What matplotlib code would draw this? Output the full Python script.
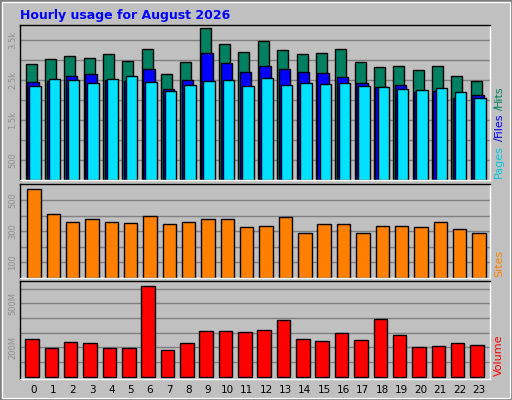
import numpy as np
import matplotlib.pyplot as plt
from matplotlib.patches import Rectangle

hours = list(range(24))
hits = [2890, 3020, 3090, 3040, 3140, 2970, 3270, 2640, 2940, 3790, 3390, 3190,
        3470, 3240, 3140, 3170, 3270, 2940, 2820, 2840, 2740, 2840, 2590, 2470]
files = [2440, 2475, 2590, 2640, 2500, 2475, 2770, 2270, 2490, 3170, 2920, 2690,
         2840, 2770, 2690, 2670, 2570, 2420, 2320, 2370, 2200, 2225, 2040, 2120]
pages = [2340, 2520, 2490, 2420, 2520, 2590, 2440, 2220, 2370, 2470, 2490, 2340,
         2540, 2370, 2420, 2390, 2420, 2340, 2320, 2270, 2240, 2290, 2190, 2040]
sites = [570, 409, 363, 376, 357, 351, 396, 344, 357, 376, 376, 325,
         331, 389, 292, 344, 344, 292, 331, 331, 325, 357, 312, 292]
volume_mb = [255, 193, 234, 227, 193, 193, 616, 180, 227, 309, 309, 302,
             316, 384, 255, 241, 295, 248, 391, 282, 200, 207, 227, 214]

BG = "#c0c0c0"
W, H = 512, 400
fig = plt.figure(figsize=(5.12, 4.0), dpi=100, facecolor=BG)

def px_axes(x0, y0, x1, y1):
    # pixel box (top-left origin) -> axes
    return fig.add_axes([x0 / W, 1 - y1 / H, (x1 - x0) / W, (y1 - y0) / H])

def style(ax, ylim):
    ax.set_facecolor(BG)
    ax.set_xlim(-0.72, 23.57)
    ax.set_ylim(*ylim)
    ax.grid(axis="y", color="#808080", lw=1)
    ax.set_axisbelow(True)
    ax.tick_params(length=0, labelsize=6, labelcolor="#909090", pad=2)
    for lab in ax.get_yticklabels():
        lab.set_rotation(90)
        lab.set_va("center")
    for s in ax.spines.values():
        s.set_color("black")
        s.set_linewidth(1)
    ax.spines["right"].set_color("white")
    ax.spines["bottom"].set_color("white")

x = np.array(hours)
kw = dict(edgecolor="black", linewidth=1, align="edge")

ax1 = px_axes(20, 25, 490, 180)
ax1.bar(x - 0.43, hits, width=0.57, color="#008060", **kw)
ax1.bar(x - 0.35, files, width=0.59, color="#0000ff", **kw)
ax1.bar(x - 0.24, pages, width=0.59, color="#00e0ff", **kw)
ax1.set_yticks(np.arange(500, 4000, 500))
ax1.set_yticklabels(["500", "", "1.5k", "", "2.5k", "", "3.5k"])
ax1.set_xticks([])
style(ax1, (0, 3875))

ax2 = px_axes(20, 184, 490, 278)
ax2.bar(x, sites, width=0.69, color="#ff8000", edgecolor="black", linewidth=1)
ax2.set_yticks(np.arange(100, 600, 100))
ax2.set_yticklabels(["100", "", "300", "", "500"])
ax2.set_xticks([])
style(ax2, (0, 604))

ax3 = px_axes(20, 281, 490, 379)
ax3.bar(x - 0.1, volume_mb, width=0.7, color="#ff0000", edgecolor="black", linewidth=1)
ax3.set_yticks(np.arange(100, 700, 100))
ax3.set_yticklabels(["", "200M", "", "", "500M", ""])
ax3.set_xticks(hours)
ax3.set_xticklabels([str(h) for h in hours])
style(ax3, (-15, 652))
ax3.tick_params(axis="x", labelsize=7.5, labelcolor="black", pad=4)

fig.text(20 / W, 1 - 15 / H, "Hourly usage for August 2026", color="#0000ff",
         fontsize=9, fontweight="bold", va="center", ha="left")

# right side labels
def vlabel(txt, ybottom, color):
    fig.text(499 / W, 1 - ybottom / H, txt, rotation=90, color=color,
             fontsize=8, ha="center", va="bottom")

vlabel("Pages", 178, "#00c8e0")
vlabel("/", 141, "#0000c0")
vlabel("Files", 137, "#0000ff")
vlabel("/", 110, "#008060")
vlabel("Hits", 107, "#008060")
vlabel("Sites", 277, "#ff8000")
vlabel("Volume", 376, "#ff0000")

# bevel border
fig.patches.append(Rectangle((0, 0), 1, 1, transform=fig.transFigure,
                             fill=False, edgecolor="#808080", lw=3))
fig.patches.append(Rectangle((0.003, 0.004), 0.994, 0.992, transform=fig.transFigure,
                             fill=False, edgecolor="white", lw=1))

fig.savefig("out.png", dpi=100, facecolor=BG)
